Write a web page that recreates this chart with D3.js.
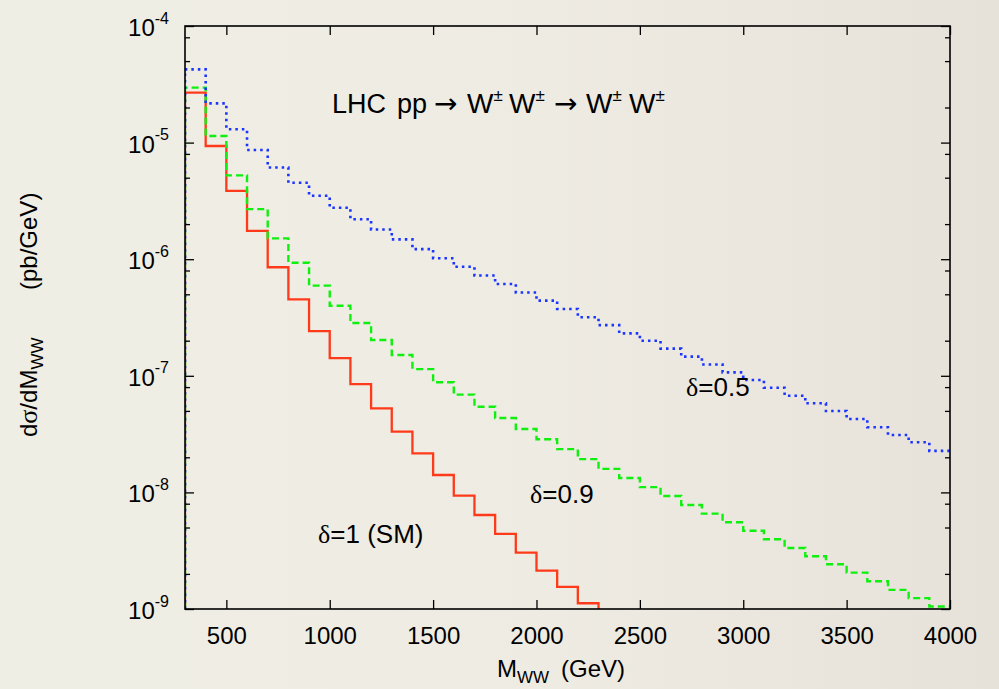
<!DOCTYPE html>
<html lang="en">
<head>
<meta charset="UTF-8">
<title>LHC pp -> W W</title>
<script src="https://d3js.org/d3.v7.min.js"></script>
<style>
  html, body { margin: 0; padding: 0; background: #eeece3; }
  svg { display: block; }
  text { font-family: "Liberation Sans", Arial, Helvetica, sans-serif; fill: #000; }
</style>
</head>
<body>
<script>
// bin edges of the histograms (GeV)
var binEdges = [300, 400, 500, 600, 700, 800, 900, 1000, 1100, 1200, 1300, 1400, 1500, 1600, 1700, 1800, 1900,
  2000, 2100, 2200, 2300, 2400, 2500, 2600, 2700, 2800, 2900, 3000, 3100, 3200, 3300, 3400, 3500, 3600, 3700,
  3800, 3900, 4000];

// dsigma/dM_WW (pb/GeV), delta = 1 (SM)
var sigmaSM = [2.68e-5, 9.35e-6, 3.85e-6, 1.75e-6, 8.53e-7, 4.53e-7, 2.42e-7, 1.42e-7, 8.5e-8, 5.26e-8,
  3.32e-8, 2.16e-8, 1.41e-8, 9.4e-9, 6.4e-9, 4.4e-9, 3.04e-9, 2.13e-9, 1.55e-9, 1.12e-9];

// delta = 0.9
var sigma09 = [2.96e-5, 1.14e-5, 5.24e-6, 2.69e-6, 1.51e-6, 9.33e-7, 5.93e-7, 3.99e-7, 2.84e-7, 2.03e-7,
  1.51e-7, 1.14e-7, 8.80e-8, 6.89e-8, 5.43e-8, 4.35e-8, 3.50e-8, 2.86e-8, 2.35e-8, 1.93e-8,
  1.59e-8, 1.33e-8, 1.11e-8, 9.31e-9, 7.80e-9, 6.57e-9, 5.54e-9, 4.69e-9, 3.96e-9, 3.34e-9,
  2.83e-9, 2.42e-9, 2.05e-9, 1.73e-9, 1.46e-9, 1.24e-9, 1.05e-9];

// delta = 0.5
var sigma05 = [4.25e-5, 2.17e-5, 1.30e-5, 8.64e-6, 6.12e-6, 4.52e-6, 3.50e-6, 2.76e-6, 2.20e-6, 1.80e-6,
  1.48e-6, 1.22e-6, 1.02e-6, 8.61e-7, 7.25e-7, 6.13e-7, 5.18e-7, 4.41e-7, 3.74e-7, 3.18e-7,
  2.72e-7, 2.31e-7, 2.00e-7, 1.71e-7, 1.46e-7, 1.25e-7, 1.07e-7, 9.20e-8, 7.90e-8, 6.75e-8,
  5.81e-8, 4.99e-8, 4.26e-8, 3.62e-8, 3.11e-8, 2.69e-8, 2.27e-8];

var xTicks = [500, 1000, 1500, 2000, 2500, 3000, 3500, 4000];
var yMajor = [1e-9, 1e-8, 1e-7, 1e-6, 1e-5, 1e-4];
var yMajorExp = ["-9", "-8", "-7", "-6", "-5", "-4"];
var yMinor = [2e-9, 5e-9, 8e-9, 2e-8, 5e-8, 8e-8, 2e-7, 5e-7, 8e-7, 2e-6, 5e-6, 8e-6, 2e-5, 5e-5, 8e-5];

var W = 999, H = 689;
var padL = 185, padR = 950, padT = 26, padB = 609;

var svg = d3.select("body").append("svg").attr("width", W).attr("height", H);

var defs = svg.append("defs");
var grad = defs.append("linearGradient").attr("id", "bg").attr("x1", 0).attr("x2", 1).attr("y1", 0).attr("y2", 0);
grad.append("stop").attr("offset", "0%").attr("stop-color", "#efeee5");
grad.append("stop").attr("offset", "55%").attr("stop-color", "#eeebe2");
grad.append("stop").attr("offset", "100%").attr("stop-color", "#e7e2d9");
svg.append("rect").attr("width", W).attr("height", H).attr("fill", "url(#bg)");

defs.append("clipPath").attr("id", "plotclip").append("rect")
  .attr("x", padL).attr("y", padT - 1).attr("width", padR - padL).attr("height", padB - padT + 2);

var x = d3.scaleLinear().domain([300, 4000]).range([padL, padR]);
var y = d3.scaleLog().domain([1e-9, 1e-4]).range([padB, padT]);

// histogram as step path: rises from the floor at the first edge
function steps(vals, dropAtEnd) {
  var pts = [[binEdges[0], 1e-9]];
  vals.forEach(function(v, i) { pts.push([binEdges[i], v]); });
  pts.push([binEdges[vals.length], vals[vals.length - 1]]);
  if (dropAtEnd) pts.push([binEdges[vals.length], 1e-9]);
  return pts;
}
var line = d3.line().curve(d3.curveStepAfter)
  .x(function(d) { return x(d[0]); })
  .y(function(d) { return y(d[1]); });

var plot = svg.append("g").attr("clip-path", "url(#plotclip)");
plot.append("path").attr("d", line(steps(sigmaSM, true)))
  .attr("fill", "none").attr("stroke", "#ff3a1a").attr("stroke-width", 2.3);
plot.append("path").attr("d", line(steps(sigma09, false)))
  .attr("fill", "none").attr("stroke", "#0ff00f").attr("stroke-width", 2.4)
  .attr("stroke-dasharray", "7,4");
plot.append("path").attr("d", line(steps(sigma05, false)))
  .attr("fill", "none").attr("stroke", "#1a35ff").attr("stroke-width", 2.6)
  .attr("stroke-dasharray", "2.5,4");

// ticks on all four sides, pointing inwards
function styleAxis(g) {
  g.select(".domain").remove();
  g.selectAll(".tick line").attr("stroke", "#000").attr("stroke-width", 1.3);
}
svg.append("g").attr("transform", "translate(0," + padB + ")")
  .call(d3.axisBottom(x).tickValues(xTicks).tickSize(-9).tickPadding(18).tickFormat(d3.format("d")))
  .call(styleAxis)
  .selectAll("text").attr("font-size", 24).attr("fill", "#000")
  .attr("font-family", "Liberation Sans, Arial, sans-serif");
svg.append("g").attr("transform", "translate(0," + padT + ")")
  .call(d3.axisTop(x).tickValues(xTicks).tickSize(-9).tickFormat(""))
  .call(styleAxis);
svg.append("g").attr("transform", "translate(" + padL + ",0)")
  .call(d3.axisLeft(y).tickValues(yMajor).tickSize(-9).tickFormat(""))
  .call(styleAxis);
svg.append("g").attr("transform", "translate(" + padL + ",0)")
  .call(d3.axisLeft(y).tickValues(yMinor).tickSize(-5).tickFormat(""))
  .call(styleAxis);
svg.append("g").attr("transform", "translate(" + padR + ",0)")
  .call(d3.axisRight(y).tickValues(yMajor).tickSize(-9).tickFormat(""))
  .call(styleAxis);
svg.append("g").attr("transform", "translate(" + padR + ",0)")
  .call(d3.axisRight(y).tickValues(yMinor).tickSize(-5).tickFormat(""))
  .call(styleAxis);

// y tick labels 10^n
var ylab = svg.append("g").selectAll("text").data(yMajor).enter().append("text")
  .attr("x", padL - 16).attr("y", function(d) { return y(d) + 10; })
  .attr("text-anchor", "end").attr("font-size", 24);
ylab.append("tspan").text("10");
ylab.append("tspan").attr("font-size", 16).attr("dy", -12.5)
  .text(function(d, i) { return yMajorExp[i]; });

// frame
svg.append("rect").attr("x", padL).attr("y", padT).attr("width", padR - padL).attr("height", padB - padT)
  .attr("fill", "none").attr("stroke", "#000").attr("stroke-width", 1.6);

// axis titles
var xt = svg.append("text").attr("x", 497).attr("y", 677).attr("font-size", 24);
xt.append("tspan").text("M");
xt.append("tspan").attr("x", 517).attr("font-size", 17).attr("dy", 6).text("WW");
xt.append("tspan").attr("x", 561).attr("dy", -6).text("(GeV)");

var yt = svg.append("text").attr("transform", "translate(37,437) rotate(-90)").attr("font-size", 24);
yt.append("tspan").text("d");
yt.append("tspan").attr("font-family", "Liberation Serif, serif").attr("font-size", 26).text("σ");
yt.append("tspan").text("/dM");
yt.append("tspan").attr("font-size", 17).attr("dy", 6).text("WW");
yt.append("tspan").attr("x", 147).attr("dy", -6).text("(pb/GeV)");

// process label
var proc = svg.append("text").attr("x", 332).attr("y", 113).attr("font-size", 27);
proc.append("tspan").text("LHC");
proc.append("tspan").attr("x", 397).text("pp");
var procParts = [
  { t: "\u2192", x: 434, arrow: true },
  { t: "W", x: 467 },
  { t: "W", x: 509 },
  { t: "\u2192", x: 554, arrow: true },
  { t: "W", x: 586 },
  { t: "W", x: 629 }
];
procParts.forEach(function(p) {
  proc.append("tspan").attr("x", p.x).attr("y", 113)
    .attr("font-family", p.arrow ? "DejaVu Sans, sans-serif" : null)
    .attr("font-size", p.arrow ? 28 : 28).text(p.t);
  if (!p.arrow) proc.append("tspan").attr("font-size", 17).attr("dy", -12).text("\u00b1");
});

// curve labels
var curveLabels = [
  { t: "=0.5", x: 686, y: 396 },
  { t: "=0.9", x: 530, y: 503 },
  { t: "=1 (SM)", x: 318, y: 543 }
];
var cl = svg.append("g").selectAll("text").data(curveLabels).enter().append("text")
  .attr("x", function(d) { return d.x; }).attr("y", function(d) { return d.y; })
  .attr("font-size", 26);
cl.append("tspan").attr("font-family", "Liberation Serif, serif").text("\u03b4");
cl.append("tspan").text(function(d) { return d.t; });
</script>
</body>
</html>
